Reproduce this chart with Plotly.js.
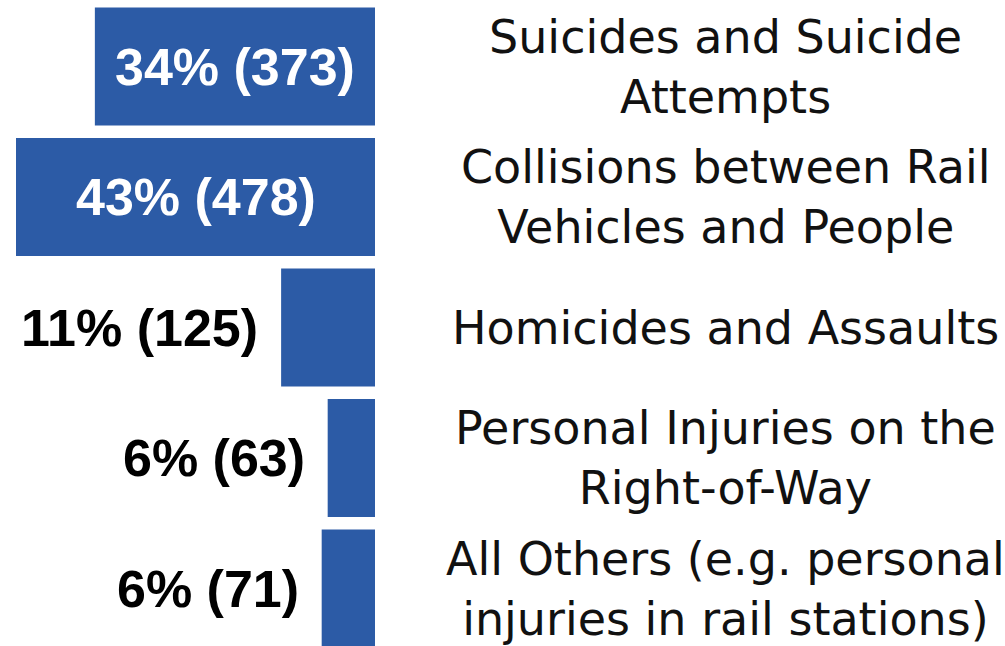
<!DOCTYPE html>
<html>
<head>
<meta charset="utf-8">
<script src="https://cdn.plot.ly/plotly-3.0.1.min.js"></script>
<style>html,body{margin:0;padding:0;background:#fff;}#chart{width:1005px;height:646px;}</style>
</head>
<body>
<div id="chart"></div>
<script>
const categories = [
  "Suicides and Suicide<br>Attempts",
  "Collisions between Rail<br>Vehicles and People",
  "Homicides and Assaults",
  "Personal Injuries on the<br>Right-of-Way",
  "All Others (e.g. personal<br>injuries in rail stations)"
];
const counts = [373, 478, 125, 63, 71];
const percents = [34, 43, 11, 6, 6];
const labelInside = [true, true, false, false, false];

const barColor = "#2c5ba6";
const trace = {
  type: "bar",
  orientation: "h",
  x: counts,
  y: categories,
  marker: {color: barColor, line: {width: 0}},
  hoverinfo: "none"
};

const annotations = [];
categories.forEach((c, i) => {
  const txt = percents[i] + "% (" + counts[i] + ")";
  if (labelInside[i]) {
    annotations.push({
      x: counts[i] / 2, y: c, xref: "x", yref: "y",
      text: txt, showarrow: false, xanchor: "center", yanchor: "middle",
      font: {family: "Liberation Sans, Arial, sans-serif", size: 52, color: "#ffffff", weight: "bold"}
    });
  } else {
    annotations.push({
      x: counts[i], y: c, xref: "x", yref: "y",
      text: txt, showarrow: false, xanchor: "right", yanchor: "middle", xshift: -21,
      font: {family: "Liberation Sans, Arial, sans-serif", size: 52, color: "#000000", weight: "bold"}
    });
  }
  annotations.push({
    x: 0.7214, y: c, xref: "paper", yref: "y",
    text: c, showarrow: false, xanchor: "center", yanchor: "middle", align: "center",
    font: {family: "DejaVu Sans, sans-serif", size: 46, color: "#111111"}
  });
});

const layout = {
  width: 1005, height: 646,
  margin: {l: 0, r: 0, t: 0, b: 0},
  paper_bgcolor: "#ffffff", plot_bgcolor: "#ffffff",
  showlegend: false,
  bargap: 0.096,
  xaxis: {domain: [0, 375/1005], range: [499.3, 0], visible: false, fixedrange: true},
  yaxis: {type: "category", range: [4.4406, -0.5096], visible: false, fixedrange: true},
  annotations: annotations
};

Plotly.newPlot("chart", [trace], layout, {displayModeBar: false, staticPlot: true});
</script>
</body>
</html>
